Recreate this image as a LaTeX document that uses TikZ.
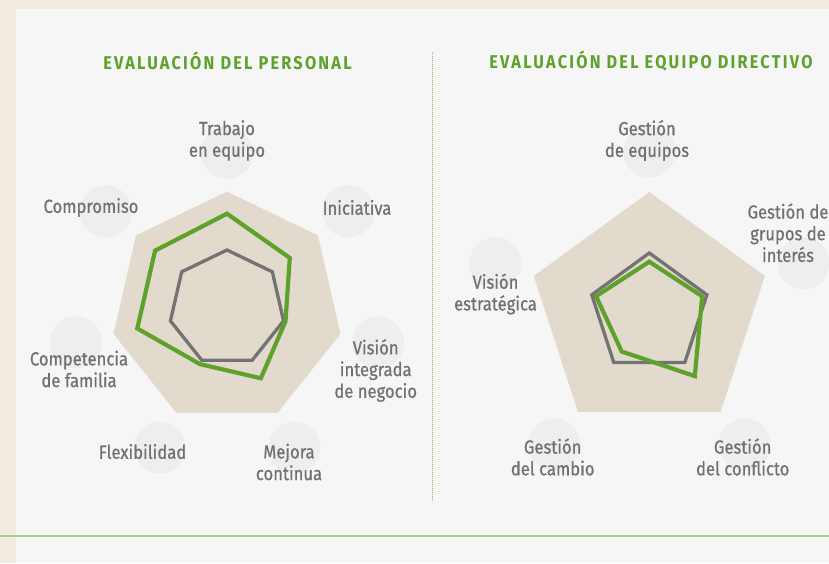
\documentclass[tikz,border=0pt]{standalone}
\usepackage{fontspec}
\setmainfont{Fira Sans}[FakeStretch=0.88,FakeBold=0.6]
\newfontfamily\titlefont{Fira Sans}[FakeStretch=0.88,LetterSpace=12]
\usetikzlibrary{calc}
\definecolor{beige}{HTML}{F2EBDF}
\definecolor{panel}{HTML}{F6F6F6}
\definecolor{areafill}{HTML}{E2DACD}
\definecolor{bubfill}{HTML}{EEEEEE}
\definecolor{txtgray}{HTML}{707070}
\definecolor{green1}{HTML}{5FA22B}
\definecolor{gray1}{HTML}{737373}
\definecolor{lightgreen}{HTML}{A8D08A}
\tikzset{
  bub/.style={circle,fill=bubfill,minimum size=52pt,inner sep=0},
  lbl/.style={text=txtgray,font=\fontsize{18.9}{21.7}\selectfont,align=center,inner sep=0},
  ttl/.style={text=green1,font=\titlefont\bfseries\fontsize{18.5}{20}\selectfont,inner sep=0},
  area/.style={fill=areafill},
  grayline/.style={draw=gray1,line width=3.3pt},
  greenline/.style={draw=green1,line width=4.2pt},
  sepline/.style={draw=lightgreen,line width=1.7pt},
  divider/.style={draw=green1!70,line width=0.8pt,dash pattern=on 0.8pt off 1.2pt}
}
\begin{document}
\begin{tikzpicture}[x=1pt,y=1pt]
\useasboundingbox (0,0) rectangle (829,563);
\fill[beige] (0,0) rectangle (829,563);
\fill[panel] (16,0) rectangle (829,554);
\coordinate (sepL) at (0,27.3);
\coordinate (sepR) at (829,27.3);
\draw[sepline] (sepL) -- (sepR);
\coordinate (dtop) at (432.7,511);
\coordinate (dbot) at (432.7,61);
\draw[divider] (dtop) -- (dbot);

% titles
\node[ttl] (t1) at (227.5,502) {EVALUACIÓN DEL PERSONAL};
\node[ttl] (t2) at (651,502) {EVALUACIÓN DEL EQUIPO DIRECTIVO};

% ---------- left chart ----------
\begin{scope}[shift={(227,255)}]
  \foreach \a/\n in {90/1,38.571/2,-12.857/3,-64.286/4,-115.714/5,-167.143/6,141.429/7}
    \node[bub] (lb\n) at (\a:155) {};
  \fill[area] (90:116.4) -- (38.571:116.4) -- (-12.857:116.4) -- (-64.286:116.4)
     -- (-115.714:116.4) -- (-167.143:116.4) -- (141.429:116.4) -- cycle;
  \draw[grayline] (90:58) -- (38.571:58) -- (-12.857:58) -- (-64.286:58)
     -- (-115.714:58) -- (-167.143:58) -- (141.429:58) -- cycle;
  \draw[greenline] (90:94.3) -- (38.571:80.3) -- (-12.857:60) -- (-64.286:78)
     -- (-115.714:62.3) -- (-167.143:92) -- (141.429:92) -- cycle;
\end{scope}
\node[lbl] (l1) at (227,422.5) {Trabajo\\en equipo};
\node[lbl] (l2) at (357,355.5) {Iniciativa};
\node[lbl] (l3) at (375.7,192.5) {Visión\\integrada\\de negocio};
\node[lbl] (l4) at (289,101) {Mejora\\continua};
\node[lbl] (l5) at (142.5,111.5) {Flexibilidad};
\node[lbl] (l6) at (79,194) {Competencia\\de familia};
\node[lbl] (l7) at (91,355.5) {Compromiso};

% ---------- right chart ----------
\begin{scope}[shift={(649.3,249.5)}]
  \foreach \a/\n in {90/1,18/2,-54/3,-126/4,162/5}
    \node[bub] (rb\n) at (\a:162) {};
  \fill[area] (90:121.5) -- (18:121.5) -- (-54:121.5) -- (-126:121.5) -- (162:121.5) -- cycle;
  \draw[grayline] (90:60.5) -- (18:60.5) -- (-54:60.5) -- (-126:60.5) -- (162:60.5) -- cycle;
  \draw[greenline] (90:51.8) -- (18:55.6) -- (-54:77.4) -- (-126:47) -- (162:56) -- cycle;
\end{scope}
\node[lbl] (r1) at (647,422.5) {Gestión\\de equipos};
\node[lbl] (r2) at (788,330.2) {Gestión de\\grupos de\\interés};
\node[lbl] (r3) at (742.7,106) {Gestión\\del conflicto};
\node[lbl] (r4) at (552.7,106) {Gestión\\del cambio};
\node[lbl] (r5) at (495.5,269) {Visión\\estratégica};
\end{tikzpicture}
\end{document}
